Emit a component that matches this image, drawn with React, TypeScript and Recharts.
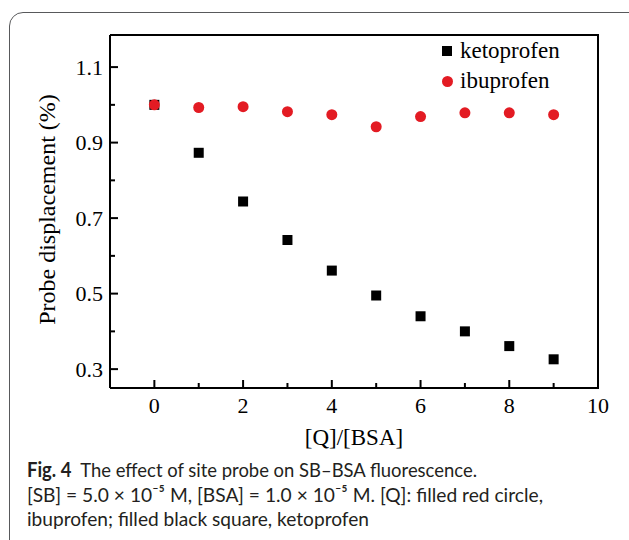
import { ScatterChart, Scatter, XAxis, YAxis, Legend } from 'recharts';

// [Q]/[BSA] ratio
const ratios = [0, 1, 2, 3, 4, 5, 6, 7, 8, 9];
const ketoprofen = [1.0, 0.873, 0.744, 0.642, 0.561, 0.495, 0.44, 0.4, 0.361, 0.326];
const ibuprofen = [1.0, 0.993, 0.995, 0.982, 0.974, 0.942, 0.969, 0.979, 0.979, 0.974];

const xTicks = [0, 1, 2, 3, 4, 5, 6, 7, 8, 9, 10];
const yTicks = [0.3, 0.4, 0.5, 0.6, 0.7, 0.8, 0.9, 1.0, 1.1];
const xDomain = [-1, 10];
const yDomain = [0.25, 1.185];

const ketoData = ratios.map((x, i) => ({ x, y: ketoprofen[i] }));
const ibuData = ratios.map((x, i) => ({ x, y: ibuprofen[i] }));

const RED = '#e31b23';
const SERIF = '"Liberation Serif", "Times New Roman", serif';
const CAPTION_FONT = 'Lato, "Open Sans", sans-serif';
const CHART_W = 629;
const CHART_H = 460;
const MARGIN = { top: 35, right: 31, bottom: 12, left: 0 };
const Y_AXIS_W = 110;
const X_AXIS_H = 60;
const X_MARGIN = 7;
const Y_MARGIN = 7;

function LeftTick({ x, y, payload }: any) {
  const v = payload.value;
  const major = Math.round(v * 10) % 2 === 1;
  const ax = x + Y_MARGIN;
  return (
    <g>
      <line x1={ax} x2={ax + (major ? 8 : 5)} y1={y} y2={y} stroke="#000" strokeWidth={2} />
      {major && (
        <text x={x} y={y} dy="0.35em" textAnchor="end" fontSize={22} fontFamily={SERIF} fill="#000">
          {v.toFixed(1)}
        </text>
      )}
    </g>
  );
}

function BottomTick({ x, y, payload }: any) {
  const v = payload.value;
  const major = v % 2 === 0;
  const ay = y - X_MARGIN;
  return (
    <g>
      <line x1={x} x2={x} y1={ay} y2={ay - (major ? 8 : 5)} stroke="#000" strokeWidth={2} />
      {major && (
        <text x={x} y={y} dy="0.8em" textAnchor="middle" fontSize={22} fontFamily={SERIF} fill="#000">
          {v}
        </text>
      )}
    </g>
  );
}

const Square = ({ cx, cy }: any) => <rect x={cx - 5} y={cy - 5} width={10} height={10} fill="#000" />;
const Dot = ({ cx, cy }: any) => <circle cx={cx} cy={cy} r={5.5} fill={RED} />;

function LegendBox() {
  const row = { display: 'flex', alignItems: 'center', height: 30 } as const;
  return (
    <div style={{ fontFamily: SERIF, fontSize: 23, color: '#000' }}>
      <div style={row}>
        <span style={{ width: 10, height: 10, background: '#000', marginRight: 8 }} />
        ketoprofen
      </div>
      <div style={row}>
        <span style={{ width: 11, height: 11, borderRadius: '50%', background: RED, marginRight: 7 }} />
        ibuprofen
      </div>
    </div>
  );
}

function Caption() {
  const common = { fontFamily: CAPTION_FONT, fontSize: 20, fill: '#231f20', lengthAdjust: 'spacingAndGlyphs' as const };
  return (
    <svg width={629} height={90} style={{ position: 'absolute', left: 0, top: 450 }}>
      <text x={27} y={27} textLength={450} {...common}>
        <tspan fontWeight="bold">Fig. 4</tspan>
        {'\u00a0\u00a0The effect of site probe on SB–BSA fluorescence.'}
      </text>
      <text x={27} y={52} textLength={516} {...common}>
        [SB] = 5.0 × 10⁻⁵ M, [BSA] = 1.0 × 10⁻⁵ M. [Q]: filled red circle,
      </text>
      <text x={27} y={76} textLength={342} {...common}>
        ibuprofen; filled black square, ketoprofen
      </text>
    </svg>
  );
}

export default function App() {
  const plotLeft = MARGIN.left + Y_AXIS_W;
  const plotRight = CHART_W - MARGIN.right;
  const plotBottom = CHART_H - MARGIN.bottom - X_AXIS_H;
  return (
    <div
      style={{
        position: 'absolute',
        left: 0,
        top: 0,
        width: 629,
        height: 540,
        overflow: 'hidden',
        background: '#fff',
      }}
    >
      <div
        style={{
          position: 'absolute',
          left: 9,
          top: 12,
          width: 660,
          height: 580,
          border: '1.5px solid #58595b',
          borderRadius: 14,
        }}
      />
      <div style={{ position: 'absolute', left: 0, top: 0 }}>
        <ScatterChart width={CHART_W} height={CHART_H} margin={MARGIN}>
          <XAxis
            dataKey="x"
            type="number"
            domain={xDomain}
            ticks={xTicks}
            interval={0}
            allowDataOverflow
            height={X_AXIS_H}
            tickSize={0}
            tickMargin={X_MARGIN}
            tickLine={false}
            tick={<BottomTick />}
            axisLine={{ stroke: '#000', strokeWidth: 2 }}
            label={{
              content: ({ viewBox }: any) => (
                <text
                  x={viewBox.x + viewBox.width / 2}
                  y={viewBox.y + 49}
                  dy="0.35em"
                  textAnchor="middle"
                  fontSize={23}
                  fontFamily={SERIF}
                  fill="#000"
                >
                  [Q]/[BSA]
                </text>
              ),
            }}
          />
          <YAxis
            dataKey="y"
            type="number"
            domain={yDomain}
            ticks={yTicks}
            interval={0}
            allowDataOverflow
            width={Y_AXIS_W}
            tickSize={0}
            tickMargin={Y_MARGIN}
            tickLine={false}
            tick={<LeftTick />}
            axisLine={{ stroke: '#000', strokeWidth: 2 }}
            label={{
              content: ({ viewBox }: any) => {
                const cx = viewBox.x + 47;
                const cy = viewBox.y + viewBox.height / 2 - 2;
                return (
                  <text
                    x={cx}
                    y={cy}
                    dy="0.35em"
                    textAnchor="middle"
                    transform={`rotate(-90, ${cx}, ${cy})`}
                    fontSize={24}
                    fontFamily={SERIF}
                    fill="#000"
                  >
                    Probe displacement (%)
                  </text>
                );
              },
            }}
          />
          <Legend
            layout="horizontal"
            verticalAlign="middle"
            content={<LegendBox />}
            wrapperStyle={{ top: 36, left: 442, width: 'auto' }}
          />
          <Scatter name="ketoprofen" data={ketoData} shape={<Square />} isAnimationActive={false} />
          <Scatter name="ibuprofen" data={ibuData} shape={<Dot />} isAnimationActive={false} />
        </ScatterChart>
      </div>
      {/* top and right edges of the plot frame */}
      <div
        style={{
          position: 'absolute',
          left: plotLeft,
          top: MARGIN.top - 1,
          width: plotRight - plotLeft + 1,
          height: plotBottom - MARGIN.top + 2,
          boxSizing: 'border-box',
          borderTop: '2px solid #000',
          borderRight: '2px solid #000',
          pointerEvents: 'none',
        }}
      />
      <Caption />
    </div>
  );
}
